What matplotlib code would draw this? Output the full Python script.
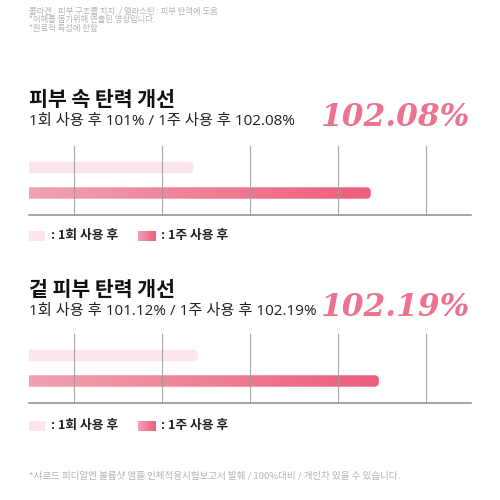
import numpy as np
import matplotlib
matplotlib.use("Agg")
import matplotlib.pyplot as plt
from matplotlib.patches import FancyBboxPatch, Rectangle
from matplotlib.colors import LinearSegmentedColormap

plt.rcParams['font.family'] = ['Noto Sans CJK KR', 'DejaVu Sans']

# ---- data ----
chart_titles = ["피부 속 탄력 개선", "겉 피부 탄력 개선"]
series_labels = ["1회 사용 후", "1주 사용 후"]
values_once = [101.0, 101.12]
values_week = [102.08, 102.19]
subtitles = ["1회 사용 후 101% / 1주 사용 후 102.08%",
             "1회 사용 후 101.12% / 1주 사용 후 102.19%"]
highlights = ["102.08%", "102.19%"]
header_lines = ["콜라겐 : 피부 구조를 지지  / 엘라스틴 : 피부 탄력에 도움",
                "*이해를 돕기위해 연출된 영상입니다.",
                "*원료적 특성에 한함"]
footnote = "*샤르드 피디알엔 볼륨샷 앰플 인체적용시험보고서 발췌 / 100%대비 / 개인차 있을 수 있습니다."

# ---- style ----
W = H = 500
light_col = "#fce6eb"
grad_left = "#f2a2b3"
grad_right = "#ee5d7d"
accent = "#ec7390"
xlims = [(100.0, 102.69), (100.12, 102.735)]
grad_cmap = LinearSegmentedColormap.from_list("g", [grad_left, grad_right])
mixed = ['Open Sans', 'Noto Sans CJK KR']

fig = plt.figure(figsize=(5, 5), dpi=100)
fig.patch.set_facecolor("white")

def fx(px):
    return px / W

def fy(py):
    return 1 - py / H

# header
for txt, y in zip(header_lines, [13.5, 22, 31]):
    fig.text(fx(29), fy(y), txt, fontsize=6.0, color="#b4b4b4", va="baseline", ha="left")

blocks = [dict(title_y=99, sub_y=122, num_y=118, ax_top=146, ax_bot=215, leg_y=236),
          dict(title_y=289, sub_y=312, num_y=308, ax_top=334, ax_bot=403, leg_y=426)]

ax_left, ax_right = 29, 471

def rounded_bar(ax, x0, x1, yc, h, xl, color=None, gradient=False):
    xppu = (ax_right - ax_left) / (xl[1] - xl[0])
    y0l, y1l = ax.get_ylim()
    yppu = 69 / abs(y0l - y1l)
    r_px = 4.5
    rs = r_px / xppu
    aspect = xppu / yppu
    start = x0 - 0.2
    patch = FancyBboxPatch((start, yc - h / 2), x1 - start, h,
                           boxstyle=f"round,pad=0,rounding_size={rs}",
                           mutation_aspect=aspect,
                           facecolor=color if not gradient else "none",
                           edgecolor="none", zorder=2)
    ax.add_patch(patch)
    if gradient:
        grad = np.linspace(0, 1, 256).reshape(1, -1)
        im = ax.imshow(grad, cmap=grad_cmap, aspect="auto",
                       extent=(x0, x1, yc + h / 2, yc - h / 2), zorder=2,
                       interpolation="bilinear")
        im.set_clip_path(patch)
    return patch

for i, b in enumerate(blocks):
    fig.text(fx(29), fy(b["title_y"]), chart_titles[i], fontsize=14.8, fontweight="heavy",
             color="#111111", va="center", ha="left")
    fig.text(fx(29), fy(b["sub_y"]), subtitles[i], fontsize=11, family=mixed,
             color="#222222", va="center", ha="left")
    fig.text(fx(470), fy(b["num_y"]), highlights[i], fontsize=22.5,
             family="DejaVu Serif", fontweight="bold", fontstyle="italic",
             color=accent, va="center", ha="right")

    ax = fig.add_axes([fx(ax_left), fy(b["ax_bot"]), (ax_right - ax_left) / W,
                       (b["ax_bot"] - b["ax_top"]) / H])
    xl = xlims[i]
    ylim = (1.863, -0.843)
    ax.set_xlim(*xl)
    ax.set_ylim(*ylim)
    for s in ["top", "left", "right"]:
        ax.spines[s].set_visible(False)
    ax.spines["bottom"].set_color("#8c8c8c")
    ax.spines["bottom"].set_linewidth(1.1)
    ax.set_xticks([])
    ax.set_yticks([])
    ax.patch.set_alpha(0)

    bh = 0.45
    rounded_bar(ax, xl[0], values_once[i], 0, bh, xl, color=light_col)
    rounded_bar(ax, xl[0], values_week[i], 1, bh, xl, gradient=True)
    ax.set_xlim(*xl)
    ax.set_ylim(*ylim)

    for f in [0.102, 0.301, 0.5, 0.699, 0.898]:
        ax.plot([f, f], [0, 1], transform=ax.transAxes, color="#9a9a9a",
                lw=0.8, alpha=0.85, zorder=3, clip_on=False)

    # legend
    ly = b["leg_y"]
    fig.add_artist(Rectangle((fx(29), fy(ly + 5)), 16 / W, 10 / H,
                             transform=fig.transFigure, facecolor=light_col, edgecolor="none"))
    fig.text(fx(51), fy(ly), ": " + series_labels[0], fontsize=9.2, fontweight="bold",
             color="#222222", va="center", ha="left")
    lax = fig.add_axes([fx(138), fy(ly + 5), 18 / W, 10 / H])
    lax.imshow(np.linspace(0, 1, 64).reshape(1, -1), cmap=grad_cmap, aspect="auto")
    lax.axis("off")
    fig.text(fx(161), fy(ly), ": " + series_labels[1], fontsize=9.2, fontweight="bold",
             color="#222222", va="center", ha="left")

fig.text(fx(29), fy(476), footnote, fontsize=6.9, color="#b4b4b4", va="center", ha="left")

fig.savefig("out.png", dpi=100, facecolor="white")
